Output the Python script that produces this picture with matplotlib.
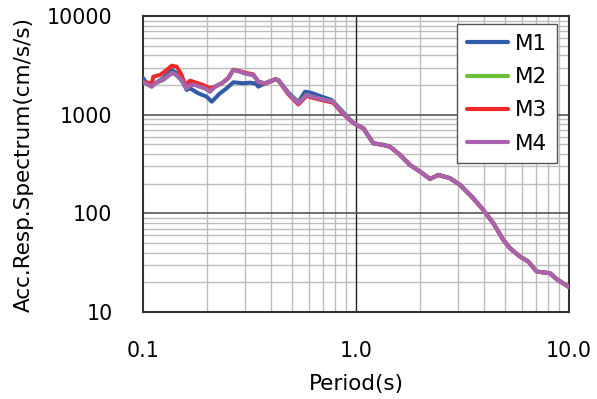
import matplotlib
matplotlib.use("Agg")
import matplotlib.pyplot as plt
from matplotlib.ticker import FixedLocator, NullFormatter, FixedFormatter

# ---- data ----
# common tail (all four models coincide for T > ~0.9 s)
period_tail = [0.9546, 1.008, 1.082, 1.206, 1.344, 1.444, 1.609, 1.793, 1.998, 2.226,
               2.435, 2.763, 3.078, 3.309, 3.554, 3.961, 4.413, 4.914, 5.284, 5.888,
               6.442, 7.054, 8.144, 8.755, 10.0]
acc_tail = [849, 786, 728, 513, 493, 474, 391, 309, 265, 223,
            245, 227, 194, 166, 142, 108, 79.4, 53.8, 44.3, 36.4,
            32.4, 25.7, 24.7, 21.5, 17.9]

# M1 short-period part
period_m1 = [0.1, 0.1041, 0.1099, 0.1139, 0.1241, 0.1364, 0.1429, 0.1546, 0.1604, 0.1663,
             0.1817, 0.1991, 0.2101, 0.2299, 0.2471, 0.2655, 0.2957, 0.3178, 0.3388, 0.3478,
             0.3739, 0.4166, 0.4317, 0.4811, 0.5358, 0.5764, 0.6195, 0.6902, 0.769, 0.8568]
acc_m1 = [2354, 2080, 1954, 2080, 2328, 2838, 2644, 2080, 1780, 1851,
          1648, 1522, 1354, 1648, 1851, 2130, 2080, 2110, 2071, 1922,
          2080, 2284, 2248, 1680, 1340, 1710, 1660, 1522, 1409, 1100]

# M3 short-period part
period_m3 = [0.1, 0.1099, 0.1118, 0.1202, 0.1292, 0.1364, 0.144, 0.1519, 0.1575, 0.1663,
             0.1754, 0.1919, 0.2063, 0.2178, 0.2342, 0.2515, 0.2655, 0.2854, 0.3068, 0.3295,
             0.3478, 0.3739, 0.4166, 0.4317, 0.4811, 0.5358, 0.5869, 0.6195, 0.7152, 0.7823,
             0.8568]
acc_m3 = [2143, 2080, 2427, 2525, 2838, 3136, 3065, 2525, 2000, 2211,
          2130, 2000, 1851, 1922, 2080, 2360, 2860, 2760, 2640, 2560,
          2140, 2060, 2270, 2230, 1610, 1270, 1550, 1490, 1380, 1320,
          1050]

# M2 short-period part (hidden under M4)
period_m2 = [0.1, 0.1099, 0.1139, 0.1241, 0.1364, 0.1413, 0.1519, 0.1604, 0.1663, 0.1754,
             0.1851, 0.1955, 0.2063, 0.2178, 0.2342, 0.2515, 0.2655, 0.2854, 0.3068, 0.3295,
             0.3478, 0.3739, 0.4166, 0.4317, 0.4811, 0.5358, 0.5869, 0.6195, 0.7152, 0.7823,
             0.8568]
acc_m2 = [2143, 1922, 2080, 2248, 2627, 2584, 2248, 1851, 2000, 2000,
          1922, 1851, 1710, 1922, 2080, 2338, 2838, 2728, 2584, 2525,
          2159, 2080, 2284, 2248, 1648, 1305, 1584, 1522, 1409, 1354,
          1072]

# M4 short-period part
period_m4 = [0.1, 0.1099, 0.1139, 0.1241, 0.1364, 0.1413, 0.1519, 0.1604, 0.1663, 0.1754,
             0.1851, 0.1955, 0.2063, 0.2178, 0.2342, 0.2515, 0.2655, 0.2854, 0.3068, 0.3295,
             0.3478, 0.3739, 0.4166, 0.4317, 0.4811, 0.5358, 0.5869, 0.6195, 0.7152, 0.7823,
             0.8568]
acc_m4 = [2143, 1922, 2080, 2248, 2627, 2584, 2248, 1851, 2000, 2000,
          1922, 1851, 1710, 1922, 2080, 2338, 2838, 2728, 2584, 2525,
          2159, 2080, 2284, 2248, 1648, 1305, 1584, 1522, 1409, 1354,
          1072]

labels = ["M1", "M2", "M3", "M4"]
colors = ["#2F5BA8", "#6DC13A", "#F0282A", "#A862AE"]

x_ticks = [0.1, 1.0, 10.0]
x_ticklabels = ["0.1", "1.0", "10.0"]
y_ticks = [10, 100, 1000, 10000]
y_ticklabels = ["10", "100", "1000", "10000"]

# ---- plot ----
plt.rcParams['font.family'] = ['DejaVu Sans']
fig = plt.figure(figsize=(5.97, 3.99), dpi=100)
ax = fig.add_axes([143/597, 1-312/399, (569-143)/597, (312-16)/399])
ax.set_xscale('log')
ax.set_yscale('log')
ax.set_xlim(0.1, 10)
ax.set_ylim(10, 10000)

series = [(period_m1, acc_m1), (period_m2, acc_m2), (period_m3, acc_m3), (period_m4, acc_m4)]
for (p, a), lab, c in zip(series, labels, colors):
    ax.plot(list(p) + period_tail, list(a) + acc_tail, color=c, lw=2.9, label=lab,
            solid_capstyle='round', solid_joinstyle='round', zorder=3)

# grids
ax.xaxis.set_major_locator(FixedLocator(x_ticks))
ax.xaxis.set_major_formatter(FixedFormatter(x_ticklabels))
ax.yaxis.set_major_locator(FixedLocator(y_ticks))
ax.yaxis.set_major_formatter(FixedFormatter(y_ticklabels))
xminor = [m * d for d in (0.1, 1.0) for m in range(2, 10)]
yminor = [m * d for d in (10, 100, 1000) for m in range(2, 10)]
ax.xaxis.set_minor_locator(FixedLocator(xminor))
ax.yaxis.set_minor_locator(FixedLocator(yminor))
ax.xaxis.set_minor_formatter(NullFormatter())
ax.yaxis.set_minor_formatter(NullFormatter())
ax.grid(which='minor', color='#BDBDBD', lw=1.0, zorder=1)
ax.axvline(1.0, color='#222222', lw=1.0, zorder=2)
for yv in (100, 1000):
    ax.axhline(yv, color='#555555', lw=1.2, zorder=2)

ax.tick_params(which='both', length=0)
ax.tick_params(axis='x', pad=21, labelsize=14.8)
ax.tick_params(axis='y', pad=22, labelsize=14.8)
for s in ax.spines.values():
    s.set_color('#333333')
    s.set_linewidth(1.5)

ax.set_xlabel("Period(s)", fontsize=15.5, labelpad=9)
ax.set_ylabel("Acc.Resp.Spectrum(cm/s/s)", fontsize=15.5, labelpad=9)

leg = ax.legend(loc='upper right', bbox_to_anchor=((557-143)/426, (312-24)/296),
                fontsize=15.5, handlelength=1.9, handletextpad=0.35, labelspacing=0.62,
                borderpad=0.45, borderaxespad=0, fancybox=False, framealpha=1, edgecolor='#555555')
leg.get_frame().set_linewidth(1.0)
for h in leg.get_lines():
    h.set_linewidth(3.0)

fig.savefig("out.png", dpi=100)
